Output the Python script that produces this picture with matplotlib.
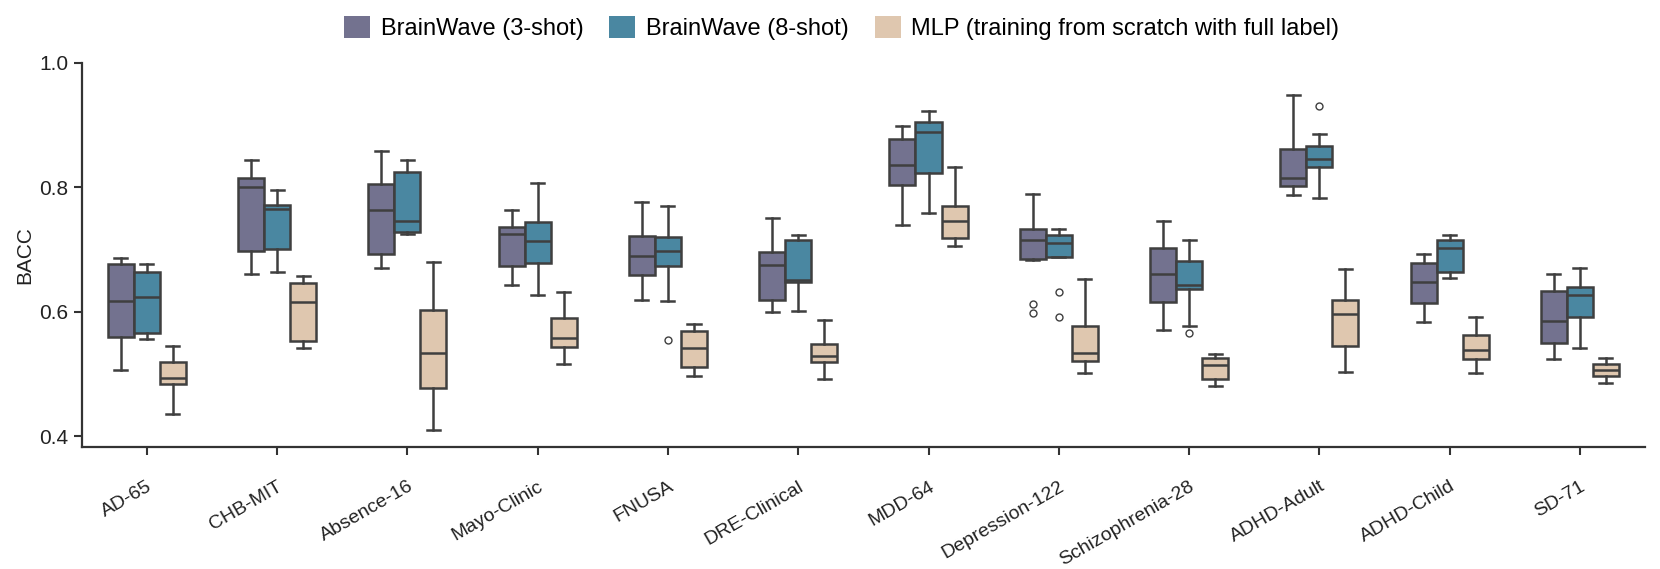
import matplotlib
matplotlib.use("Agg")
import matplotlib.pyplot as plt
from matplotlib.patches import Patch
from matplotlib.transforms import ScaledTranslation
import numpy as np

plt.rcParams['font.family'] = ['Liberation Sans', 'DejaVu Sans']

datasets = ['AD-65', 'CHB-MIT', 'Absence-16', 'Mayo-Clinic', 'FNUSA', 'DRE-Clinical',
            'MDD-64', 'Depression-122', 'Schizophrenia-28', 'ADHD-Adult', 'ADHD-Child', 'SD-71']
series_names = ['BrainWave (3-shot)', 'BrainWave (8-shot)', 'MLP (training from scratch with full label)']
colors = ['#73728f', '#4a87a1', '#dfc7af']

# box stats: whisker low, q1, median, q3, whisker high
bw3_lo = [0.506, 0.661, 0.670, 0.643, 0.619, 0.600, 0.739, 0.683, 0.571, 0.788, 0.584, 0.524]
bw3_q1 = [0.560, 0.697, 0.692, 0.674, 0.659, 0.618, 0.804, 0.684, 0.616, 0.802, 0.614, 0.549]
bw3_med = [0.617, 0.801, 0.763, 0.724, 0.689, 0.675, 0.835, 0.715, 0.660, 0.814, 0.648, 0.585]
bw3_q3 = [0.677, 0.814, 0.805, 0.736, 0.722, 0.696, 0.877, 0.732, 0.703, 0.862, 0.678, 0.633]
bw3_hi = [0.686, 0.844, 0.858, 0.764, 0.776, 0.750, 0.899, 0.789, 0.745, 0.948, 0.692, 0.661]
bw3_out = {'Depression-122': [0.612, 0.598]}

bw8_lo = [0.556, 0.664, 0.725, 0.626, 0.617, 0.601, 0.758, 0.688, 0.577, 0.783, 0.654, 0.541]
bw8_q1 = [0.566, 0.701, 0.728, 0.678, 0.674, 0.648, 0.822, 0.688, 0.636, 0.832, 0.664, 0.591]
bw8_med = [0.624, 0.765, 0.746, 0.713, 0.697, 0.651, 0.889, 0.710, 0.642, 0.845, 0.702, 0.626]
bw8_q3 = [0.664, 0.772, 0.825, 0.744, 0.720, 0.715, 0.905, 0.723, 0.681, 0.866, 0.715, 0.640]
bw8_hi = [0.676, 0.795, 0.843, 0.806, 0.770, 0.723, 0.923, 0.733, 0.715, 0.885, 0.723, 0.670]
bw8_out = {'FNUSA': [0.555], 'Depression-122': [0.632, 0.591], 'Schizophrenia-28': [0.566],
           'ADHD-Adult': [0.930]}

mlp_lo = [0.436, 0.541, 0.410, 0.516, 0.497, 0.492, 0.705, 0.501, 0.480, 0.503, 0.501, 0.485]
mlp_q1 = [0.484, 0.553, 0.478, 0.543, 0.511, 0.519, 0.719, 0.520, 0.492, 0.545, 0.524, 0.496]
mlp_med = [0.494, 0.615, 0.533, 0.558, 0.542, 0.529, 0.745, 0.534, 0.515, 0.596, 0.539, 0.506]
mlp_q3 = [0.519, 0.646, 0.602, 0.590, 0.569, 0.548, 0.769, 0.577, 0.526, 0.618, 0.562, 0.516]
mlp_hi = [0.544, 0.658, 0.679, 0.631, 0.580, 0.586, 0.832, 0.653, 0.532, 0.668, 0.592, 0.526]
mlp_out = {}

series = [
    (bw3_lo, bw3_q1, bw3_med, bw3_q3, bw3_hi, bw3_out),
    (bw8_lo, bw8_q1, bw8_med, bw8_q3, bw8_hi, bw8_out),
    (mlp_lo, mlp_q1, mlp_med, mlp_q3, mlp_hi, mlp_out),
]

edge = '#3f3f3f'
lw = 1.8
width = 0.2
offsets = [-0.2, 0.0, 0.2]

fig, ax = plt.subplots(figsize=(16.6, 5.69), dpi=100)
fig.subplots_adjust(left=0.0492, right=0.991, top=0.8898, bottom=0.2139)

x = np.arange(len(datasets))
for (lo, q1, med, q3, hi, out), off, c in zip(series, offsets, colors):
    stats = []
    for i, name in enumerate(datasets):
        stats.append(dict(whislo=lo[i], q1=q1[i], med=med[i], q3=q3[i], whishi=hi[i],
                          fliers=out.get(name, [])))
    ax.bxp(stats, positions=x + off, widths=width, patch_artist=True, manage_ticks=False,
           boxprops=dict(facecolor=c, edgecolor=edge, linewidth=lw),
           medianprops=dict(color=edge, linewidth=lw),
           whiskerprops=dict(color=edge, linewidth=lw),
           capprops=dict(color=edge, linewidth=lw),
           flierprops=dict(marker='o', markersize=5, markerfacecolor='white',
                           markeredgecolor=edge, markeredgewidth=1.0))

ax.set_xlim(-0.5, 11.5)
ax.set_ylim(0.382, 1.0)
ax.set_yticks([0.4, 0.6, 0.8, 1.0])
ax.set_yticklabels(['0.4', '0.6', '0.8', '1.0'], fontsize=15, color='#222222')
ax.set_xticks(x)
ax.set_xticklabels(datasets, rotation=30, ha='right', rotation_mode='anchor', fontsize=14,
                   color='#222222')
shift = ScaledTranslation(0.26, 0, fig.dpi_scale_trans)
for lab in ax.get_xticklabels():
    lab.set_transform(lab.get_transform() + shift)
ax.set_ylabel('BACC', fontsize=15, color='#222222')
ax.tick_params(axis='both', length=6, width=1.5, color='#333333')
ax.tick_params(axis='x', pad=16)
ax.spines['top'].set_visible(False)
ax.spines['right'].set_visible(False)
ax.spines['left'].set_linewidth(1.6)
ax.spines['bottom'].set_linewidth(1.6)
ax.spines['left'].set_color('#333333')
ax.spines['bottom'].set_color('#333333')

handles = [Patch(facecolor=c, edgecolor='none', label=n) for c, n in zip(colors, series_names)]
fig.legend(handles=handles, loc='center', bbox_to_anchor=(0.507, 0.95), ncol=3, frameon=False,
           fontsize=17, handlelength=1.1, handleheight=1.05, handletextpad=0.45,
           columnspacing=1.1)

plt.savefig('out.png', dpi=100)
